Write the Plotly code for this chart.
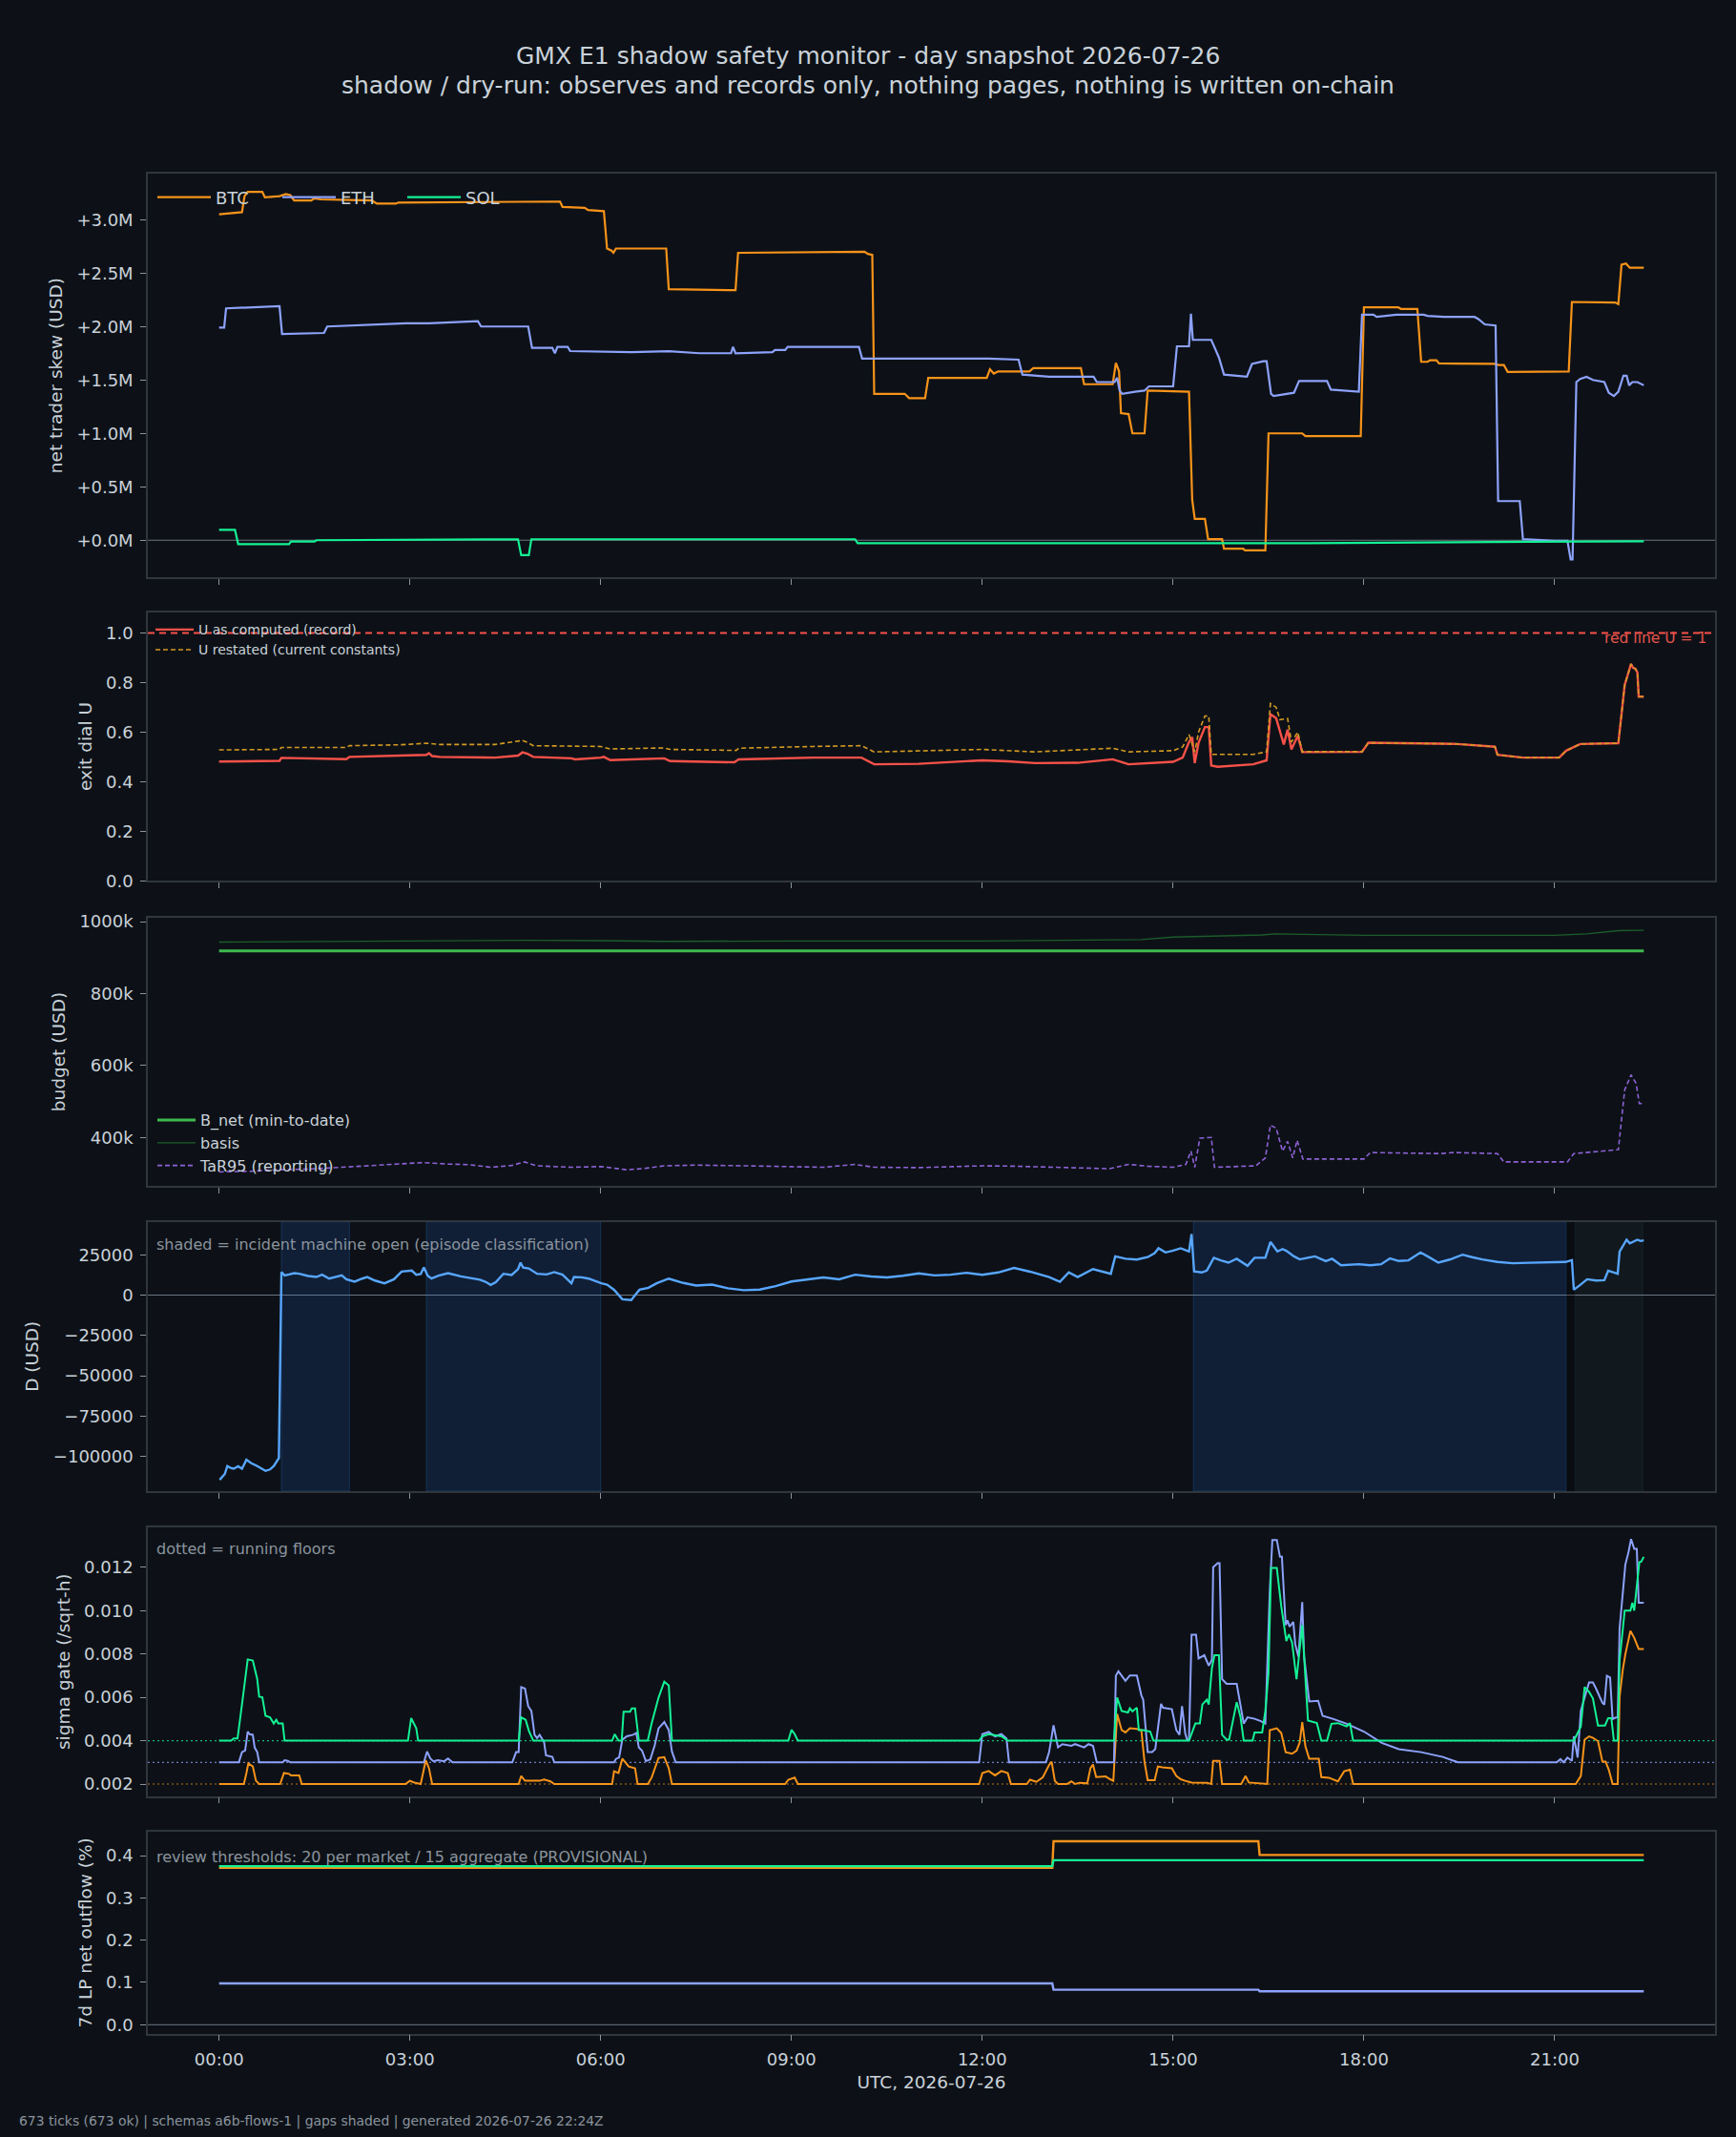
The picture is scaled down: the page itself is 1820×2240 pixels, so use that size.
import pandas as pd
import plotly.graph_objects as go

DAY = pd.Timestamp("2026-07-26 00:00")

# ---------------- data (hour of day, value) ----------------
# panel 1: net trader skew, millions USD
BTC_SKEW = [(0.00, 3.05), (0.20, 3.06), (0.36, 3.07), (0.40, 3.22), (0.45, 3.26), (0.68, 3.26), (0.72, 3.21),
            (0.95, 3.22), (1.05, 3.24), (1.12, 3.23), (1.18, 3.18), (1.45, 3.18), (1.50, 3.20), (1.60, 3.19),
            (2.40, 3.18), (2.48, 3.15), (2.78, 3.15), (2.82, 3.16), (5.30, 3.17), (5.36, 3.17), (5.40, 3.12),
            (5.75, 3.11), (5.80, 3.09), (6.05, 3.08), (6.10, 2.73), (6.17, 2.71), (6.20, 2.69), (6.24, 2.73),
            (7.03, 2.73), (7.07, 2.35), (8.12, 2.34), (8.16, 2.69), (10.15, 2.70), (10.20, 2.68), (10.27, 2.67),
            (10.30, 1.37), (10.78, 1.37), (10.85, 1.33), (11.10, 1.33), (11.15, 1.52), (12.07, 1.52), (12.12, 1.60),
            (12.18, 1.56), (12.25, 1.58), (12.74, 1.58), (12.80, 1.61), (13.55, 1.61), (13.60, 1.46), (14.05, 1.46),
            (14.10, 1.66), (14.15, 1.58), (14.18, 1.19), (14.30, 1.18), (14.36, 1.00), (14.55, 1.00), (14.60, 1.40),
            (15.25, 1.39), (15.30, 0.38), (15.34, 0.20), (15.50, 0.20), (15.55, 0.01), (15.77, 0.01), (15.80, -0.08),
            (16.10, -0.08), (16.13, -0.095), (16.45, -0.095), (16.50, 1.00), (17.03, 1.00), (17.08, 0.975),
            (17.95, 0.975), (18.00, 2.18), (18.54, 2.18), (18.58, 2.165), (18.84, 2.165), (18.90, 1.67),
            (19.00, 1.67), (19.04, 1.685), (19.14, 1.685), (19.18, 1.655), (20.05, 1.65), (20.12, 1.64),
            (20.20, 1.64), (20.26, 1.575), (21.22, 1.58), (21.27, 2.23), (21.95, 2.225), (22.00, 2.21),
            (22.05, 2.58), (22.12, 2.59), (22.18, 2.55), (22.40, 2.55)]
ETH_SKEW = [(0.00, 1.99), (0.08, 1.99), (0.11, 2.17), (0.95, 2.19), (0.99, 1.93), (1.65, 1.94), (1.70, 2.00),
            (2.94, 2.03), (3.30, 2.03), (4.07, 2.05), (4.12, 2.00), (4.86, 2.00), (4.92, 1.80), (5.24, 1.80),
            (5.28, 1.75), (5.32, 1.81), (5.48, 1.81), (5.52, 1.77), (6.48, 1.76), (7.07, 1.77), (7.55, 1.75),
            (8.05, 1.75), (8.08, 1.81), (8.12, 1.75), (8.70, 1.76), (8.74, 1.78), (8.90, 1.78), (8.94, 1.81),
            (10.06, 1.81), (10.11, 1.70), (12.10, 1.70), (12.57, 1.69), (12.63, 1.55), (13.05, 1.53), (13.75, 1.53),
            (13.80, 1.48), (14.08, 1.48), (14.12, 1.52), (14.16, 1.40), (14.20, 1.37), (14.40, 1.39), (14.55, 1.40),
            (14.62, 1.44), (15.00, 1.44), (15.06, 1.815), (15.25, 1.815), (15.28, 2.12), (15.31, 1.875),
            (15.60, 1.875), (15.68, 1.76), (15.72, 1.71), (15.80, 1.55), (16.16, 1.53), (16.24, 1.65),
            (16.42, 1.675), (16.47, 1.675), (16.54, 1.37), (16.58, 1.35), (16.90, 1.38), (16.98, 1.49),
            (17.42, 1.49), (17.48, 1.41), (17.92, 1.39), (17.97, 2.11), (18.15, 2.11), (18.20, 2.09), (18.51, 2.11),
            (18.94, 2.11), (19.00, 2.10), (19.26, 2.09), (19.74, 2.09), (19.80, 2.07), (19.90, 2.02), (20.07, 2.01),
            (20.11, 0.366), (20.45, 0.366), (20.50, 0.01), (21.00, -0.005), (21.20, -0.005), (21.25, -0.18),
            (21.28, -0.18), (21.34, 1.48), (21.40, 1.51), (21.50, 1.53), (21.60, 1.50), (21.78, 1.48),
            (21.85, 1.38), (21.93, 1.35), (22.00, 1.39), (22.08, 1.54), (22.13, 1.54), (22.17, 1.45),
            (22.22, 1.48), (22.30, 1.48), (22.40, 1.45)]
SOL_SKEW = [(0.00, 0.098), (0.25, 0.098), (0.30, -0.036), (1.10, -0.036), (1.13, -0.012), (1.50, -0.012),
            (1.53, 0.0), (4.70, 0.009), (4.75, -0.14), (4.87, -0.14), (4.91, 0.009), (10.00, 0.009),
            (10.04, -0.027), (17.13, -0.027), (20.60, -0.015), (22.05, -0.015), (22.10, -0.01), (22.40, -0.01)]
SKEW_TICKS = [0.0, 0.5, 1.0, 1.5, 2.0, 2.5, 3.0]
SKEW_TICK_TEXT = ["+0.0M", "+0.5M", "+1.0M", "+1.5M", "+2.0M", "+2.5M", "+3.0M"]

# panel 2: exit dial U
U_RECORD = [(0.00, 0.481), (0.95, 0.484), (0.98, 0.496), (2.00, 0.491), (2.05, 0.500), (2.87, 0.506),
            (3.26, 0.508), (3.30, 0.515), (3.35, 0.503), (3.47, 0.500), (4.34, 0.497), (4.70, 0.505),
            (4.77, 0.518), (4.85, 0.512), (4.94, 0.500), (5.54, 0.494), (5.60, 0.490), (6.00, 0.497),
            (6.05, 0.500), (6.15, 0.487), (7.00, 0.494), (7.09, 0.483), (8.10, 0.478), (8.17, 0.490),
            (9.34, 0.497), (10.10, 0.497), (10.30, 0.470), (11.00, 0.472), (12.00, 0.486), (12.40, 0.482),
            (12.83, 0.475), (13.50, 0.476), (14.05, 0.490), (14.30, 0.470), (15.00, 0.480), (15.15, 0.497),
            (15.25, 0.560), (15.30, 0.580), (15.34, 0.475), (15.40, 0.557), (15.50, 0.620), (15.56, 0.620),
            (15.60, 0.465), (15.70, 0.460), (16.26, 0.470), (16.47, 0.486), (16.53, 0.672), (16.62, 0.656),
            (16.68, 0.607), (16.74, 0.550), (16.80, 0.610), (16.86, 0.530), (16.96, 0.585), (17.03, 0.519),
            (17.97, 0.520), (18.07, 0.557), (19.47, 0.552), (20.06, 0.541), (20.10, 0.508), (20.50, 0.497),
            (21.07, 0.497), (21.18, 0.525), (21.40, 0.552), (22.00, 0.555), (22.10, 0.790), (22.20, 0.875),
            (22.23, 0.860), (22.27, 0.855), (22.30, 0.840), (22.32, 0.743), (22.40, 0.743)]
U_RESTATED = [(0.00, 0.528), (0.95, 0.530), (0.98, 0.538), (2.00, 0.538), (2.05, 0.545), (2.87, 0.549),
              (3.26, 0.555), (3.47, 0.550), (4.34, 0.550), (4.77, 0.566), (4.85, 0.558), (4.94, 0.545),
              (6.00, 0.542), (6.15, 0.532), (7.00, 0.536), (7.09, 0.530), (8.13, 0.526), (8.17, 0.535),
              (9.34, 0.542), (10.10, 0.545), (10.30, 0.520), (12.00, 0.530), (12.83, 0.520), (14.05, 0.535),
              (14.30, 0.520), (15.00, 0.525), (15.15, 0.540), (15.25, 0.590), (15.34, 0.520), (15.40, 0.600),
              (15.50, 0.665), (15.56, 0.665), (15.60, 0.510), (16.26, 0.510), (16.47, 0.520), (16.53, 0.715),
              (16.62, 0.700), (16.68, 0.650), (16.80, 0.655), (16.86, 0.560), (16.96, 0.600), (17.03, 0.521),
              (17.97, 0.521), (18.07, 0.557), (19.47, 0.552), (20.06, 0.541), (20.10, 0.508), (20.50, 0.497),
              (21.07, 0.497), (21.18, 0.525), (21.40, 0.552), (22.00, 0.555), (22.10, 0.790), (22.20, 0.875),
              (22.23, 0.860), (22.27, 0.855), (22.30, 0.840), (22.32, 0.743), (22.40, 0.743)]
U_RED_LINE = 1.0
U_TICKS = [0.0, 0.2, 0.4, 0.6, 0.8, 1.0]

# panel 3: budget, thousands USD
B_NET = [(0.00, 918.5), (22.40, 918.5)]
BASIS = [(0.0, 943), (1.0, 944), (3.0, 946), (4.8, 948), (6.0, 947), (7.0, 945), (9.0, 946), (12.0, 946),
         (14.5, 950), (15.0, 957), (16.4, 963), (16.6, 966), (18.0, 962), (21.0, 962), (21.5, 966),
         (22.0, 975), (22.4, 976)]
TAR95 = [(0.0, 304), (0.5, 306), (0.93, 310), (1.4, 312), (1.93, 317), (2.4, 322), (2.87, 328), (3.2, 330),
         (3.6, 326), (3.94, 324), (4.27, 317), (4.6, 322), (4.8, 332), (5.0, 321), (5.54, 317), (6.01, 319),
         (6.41, 310), (6.7, 314), (7.0, 321), (7.5, 323), (8.3, 321), (9.0, 318), (9.5, 317), (10.0, 325),
         (10.3, 317), (11.0, 316), (12.0, 321), (12.5, 320), (13.0, 317), (13.5, 315), (14.0, 313),
         (14.3, 325), (14.6, 320), (15.0, 317), (15.2, 325), (15.28, 362), (15.34, 317), (15.42, 398),
         (15.6, 400), (15.65, 317), (16.3, 321), (16.45, 343), (16.53, 434), (16.62, 426), (16.72, 362),
         (16.8, 389), (16.88, 343), (16.95, 392), (17.04, 340), (18.0, 340), (18.1, 358), (19.2, 355),
         (19.4, 358), (20.1, 355), (20.2, 332), (21.2, 332), (21.3, 355), (22.0, 366), (22.1, 532),
         (22.2, 574), (22.28, 550), (22.33, 494), (22.4, 494)]
BUDGET_TICKS = [400e3, 600e3, 800e3, 1000e3]
BUDGET_TICK_TEXT = ["400k", "600k", "800k", "1000k"]

# panel 4: D, thousands USD
D_USD = [(0.01, -114.4), (0.09, -110.8), (0.13, -105.9), (0.18, -107.0), (0.23, -107.5), (0.30, -106.0),
         (0.36, -107.5), (0.43, -102.0), (0.50, -104.0), (0.60, -105.9), (0.73, -108.9), (0.80, -108.0),
         (0.86, -105.9), (0.94, -101.0), (0.98, 14.2), (1.03, 12.2), (1.10, 12.8), (1.18, 13.6), (1.26, 13.2),
         (1.40, 11.8), (1.53, 11.2), (1.62, 12.6), (1.73, 10.2), (1.85, 11.4), (1.93, 12.2), (2.00, 9.8),
         (2.13, 8.3), (2.25, 10.2), (2.33, 11.2), (2.45, 9.0), (2.60, 7.3), (2.75, 9.8), (2.87, 14.6),
         (3.03, 15.2), (3.10, 12.6), (3.17, 13.0), (3.22, 17.1), (3.28, 12.0), (3.34, 10.2), (3.45, 12.0),
         (3.60, 13.6), (3.80, 11.6), (3.94, 10.6), (4.10, 9.5), (4.20, 8.0), (4.27, 6.3), (4.35, 8.0),
         (4.47, 13.2), (4.60, 12.4), (4.70, 16.0), (4.74, 20.1), (4.78, 17.0), (4.87, 16.5), (5.00, 13.2),
         (5.15, 12.8), (5.27, 14.2), (5.40, 12.6), (5.54, 7.3), (5.58, 11.2), (5.70, 11.0), (5.81, 10.2),
         (6.01, 7.3), (6.10, 6.5), (6.21, 3.3), (6.34, -2.6), (6.48, -3.1), (6.55, 0.5), (6.61, 3.3),
         (6.75, 4.5), (6.88, 7.3), (7.07, 10.2), (7.30, 7.5), (7.50, 5.9), (7.75, 6.5), (8.00, 4.2),
         (8.25, 3.0), (8.50, 3.4), (8.75, 5.5), (9.00, 8.4), (9.25, 9.5), (9.50, 10.9), (9.75, 9.8),
         (10.00, 12.6), (10.25, 11.5), (10.50, 10.9), (10.75, 12.0), (11.00, 13.4), (11.25, 12.2),
         (11.50, 12.6), (11.75, 13.8), (12.00, 12.6), (12.25, 14.0), (12.50, 16.8), (12.75, 14.5),
         (13.05, 11.2), (13.22, 8.2), (13.36, 14.1), (13.50, 11.2), (13.74, 16.1), (14.02, 13.2),
         (14.09, 24.0), (14.25, 22.5), (14.43, 22.0), (14.60, 23.5), (14.71, 26.0), (14.77, 29.0),
         (14.88, 26.4), (15.00, 27.5), (15.12, 29.0), (15.25, 27.0), (15.29, 37.8), (15.33, 14.6),
         (15.45, 14.0), (15.53, 15.2), (15.64, 23.1), (15.75, 21.5), (15.87, 20.1), (16.00, 22.5),
         (16.10, 20.0), (16.17, 18.1), (16.28, 23.1), (16.45, 23.1), (16.53, 32.9), (16.64, 27.0),
         (16.72, 28.5), (16.78, 27.4), (16.90, 24.0), (16.99, 22.1), (17.10, 23.0), (17.23, 24.0),
         (17.40, 21.0), (17.50, 22.5), (17.64, 18.5), (17.80, 18.8), (17.92, 19.1), (18.10, 18.5),
         (18.27, 19.1), (18.41, 22.7), (18.55, 21.1), (18.70, 21.5), (18.89, 26.4), (19.00, 24.0),
         (19.17, 20.1), (19.35, 22.0), (19.55, 25.0), (19.70, 23.5), (19.86, 22.1), (20.10, 20.5),
         (20.34, 19.7), (20.60, 20.0), (20.90, 20.2), (21.17, 20.5), (21.27, 21.7), (21.30, 3.3),
         (21.40, 6.3), (21.51, 9.8), (21.65, 9.0), (21.78, 9.2), (21.84, 15.1), (21.92, 14.1), (21.99, 13.2),
         (22.02, 27.0), (22.08, 31.0), (22.13, 34.3), (22.18, 32.0), (22.23, 32.9), (22.30, 34.3),
         (22.35, 33.5), (22.40, 33.9)]
INCIDENT_OPEN = [(0.98, 2.05), (3.26, 6.00), (15.32, 21.18)]
GAP_SPANS = [(21.18, 21.32)]
LATE_SPANS = [(21.32, 22.39)]
D_TICKS = [-100000, -75000, -50000, -25000, 0, 25000]
D_TICK_TEXT = ["\u2212100000", "\u221275000", "\u221250000", "\u221225000", "0", "25000"]

# panel 5: sigma gate (/sqrt-h)
BTC_SIG = [(0, 0.002), (0.39, 0.002), (0.43, 0.00251), (0.46, 0.00295), (0.53, 0.00281), (0.58, 0.00215),
           (0.63, 0.002), (0.96, 0.002), (1.02, 0.00251), (1.10, 0.00247), (1.13, 0.0024), (1.26, 0.0024),
           (1.30, 0.002), (2.93, 0.002), (3.00, 0.00215), (3.07, 0.00207), (3.17, 0.002), (3.20, 0.00237),
           (3.25, 0.0031), (3.30, 0.00273), (3.35, 0.002), (4.71, 0.002), (4.75, 0.00237), (4.81, 0.00215),
           (5.04, 0.00215), (5.11, 0.00221), (5.21, 0.00212), (5.27, 0.002), (6.18, 0.002), (6.21, 0.00259),
           (6.28, 0.00251), (6.34, 0.00317), (6.44, 0.00281), (6.54, 0.00273), (6.58, 0.002), (6.74, 0.002),
           (6.80, 0.00229), (6.91, 0.0032), (7.00, 0.00324), (7.07, 0.00273), (7.12, 0.002), (8.90, 0.002),
           (8.95, 0.0022), (9.05, 0.0023), (9.10, 0.002), (11.95, 0.002), (12.00, 0.0025), (12.10, 0.0026),
           (12.20, 0.0024), (12.30, 0.0026), (12.40, 0.0025), (12.45, 0.002), (12.70, 0.002), (12.75, 0.0022),
           (12.85, 0.0021), (12.95, 0.0023), (13.05, 0.00288), (13.09, 0.00303), (13.14, 0.00215),
           (13.19, 0.002), (13.33, 0.002), (13.40, 0.00212), (13.46, 0.002), (13.53, 0.00206), (13.65, 0.00203),
           (13.70, 0.00273), (13.74, 0.0029), (13.79, 0.00232), (13.94, 0.00235), (14.01, 0.00222),
           (14.06, 0.00215), (14.12, 0.00523), (14.19, 0.00449), (14.25, 0.00438), (14.32, 0.00457),
           (14.43, 0.00454), (14.50, 0.00449), (14.55, 0.00303), (14.60, 0.00218), (14.71, 0.00218),
           (14.76, 0.00281), (14.83, 0.00277), (14.98, 0.00273), (15.05, 0.00237), (15.12, 0.00222),
           (15.19, 0.00215), (15.29, 0.00207), (15.53, 0.00206), (15.60, 0.002), (15.63, 0.00307),
           (15.73, 0.00307), (15.77, 0.002), (16.07, 0.002), (16.14, 0.00237), (16.19, 0.00207), (16.48, 0.002),
           (16.52, 0.00449), (16.63, 0.00457), (16.70, 0.00435), (16.77, 0.00347), (16.87, 0.0034),
           (16.94, 0.00354), (16.99, 0.00391), (17.03, 0.00486), (17.08, 0.00374), (17.14, 0.00317),
           (17.29, 0.00317), (17.33, 0.00232), (17.45, 0.00229), (17.59, 0.00212), (17.69, 0.00259),
           (17.78, 0.00266), (17.83, 0.002), (21.33, 0.002), (21.41, 0.00237), (21.47, 0.00405), (21.54, 0.0042),
           (21.60, 0.00413), (21.68, 0.00398), (21.75, 0.00303), (21.80, 0.00303), (21.85, 0.00266),
           (21.91, 0.002), (21.99, 0.002), (22.02, 0.00603), (22.07, 0.00728), (22.11, 0.00798),
           (22.19, 0.00907), (22.25, 0.00874), (22.32, 0.00823), (22.40, 0.00823)]
ETH_SIG = [(0, 0.003), (0.31, 0.003), (0.36, 0.00347), (0.41, 0.00355), (0.45, 0.00442), (0.48, 0.0043),
           (0.53, 0.00427), (0.56, 0.00368), (0.60, 0.00347), (0.63, 0.003), (1.00, 0.003), (1.03, 0.0031),
           (1.08, 0.00307), (1.12, 0.003), (3.22, 0.003), (3.27, 0.0035), (3.32, 0.00318), (3.37, 0.00305),
           (3.44, 0.0031), (3.54, 0.00305), (3.60, 0.00318), (3.67, 0.003), (4.61, 0.003), (4.67, 0.00347),
           (4.71, 0.00347), (4.75, 0.00647), (4.81, 0.0064), (4.86, 0.00559), (4.91, 0.00537), (4.96, 0.00427),
           (5.00, 0.00412), (5.04, 0.00427), (5.11, 0.00393), (5.14, 0.00332), (5.24, 0.00325), (5.27, 0.003),
           (6.21, 0.003), (6.24, 0.00316), (6.29, 0.00323), (6.34, 0.00404), (6.41, 0.0042), (6.51, 0.00427),
           (6.56, 0.00435), (6.60, 0.00368), (6.65, 0.00354), (6.71, 0.00306), (6.78, 0.00313), (6.85, 0.00379),
           (6.91, 0.00457), (7.00, 0.00486), (7.07, 0.00449), (7.12, 0.0035), (7.18, 0.003), (11.95, 0.003),
           (12.00, 0.0043), (12.10, 0.0044), (12.20, 0.0042), (12.30, 0.0043), (12.38, 0.0041), (12.42, 0.003),
           (13.00, 0.003), (13.05, 0.00347), (13.12, 0.00471), (13.19, 0.00369), (13.26, 0.00384),
           (13.40, 0.00376), (13.46, 0.00384), (13.60, 0.00369), (13.67, 0.00384), (13.74, 0.00376),
           (13.80, 0.003), (14.07, 0.003), (14.10, 0.00699), (14.14, 0.0072), (14.25, 0.00676), (14.32, 0.00701),
           (14.43, 0.00701), (14.50, 0.0061), (14.53, 0.00588), (14.60, 0.00347), (14.67, 0.00347),
           (14.72, 0.00362), (14.81, 0.0057), (14.84, 0.00552), (14.98, 0.00545), (15.05, 0.00449),
           (15.10, 0.00427), (15.14, 0.00559), (15.19, 0.00434), (15.22, 0.00405), (15.25, 0.00405),
           (15.29, 0.00889), (15.36, 0.00889), (15.40, 0.00779), (15.49, 0.00794), (15.56, 0.00746),
           (15.61, 0.00772), (15.63, 0.0120), (15.70, 0.01219), (15.73, 0.01219), (15.77, 0.00684),
           (15.84, 0.00662), (16.00, 0.00662), (16.06, 0.00552), (16.11, 0.00479), (16.17, 0.00508),
           (16.28, 0.00501), (16.38, 0.0049), (16.45, 0.00479), (16.52, 0.01094), (16.56, 0.01326),
           (16.63, 0.01326), (16.68, 0.01248), (16.71, 0.01248), (16.77, 0.00933), (16.80, 0.00955),
           (16.83, 0.00926), (16.89, 0.00948), (16.92, 0.00845), (16.97, 0.00787), (17.03, 0.01039),
           (17.06, 0.00787), (17.14, 0.00581), (17.28, 0.00584), (17.35, 0.00515), (17.52, 0.005),
           (17.73, 0.00478), (18.00, 0.00442), (18.28, 0.0039), (18.55, 0.00361), (18.90, 0.00347),
           (19.24, 0.00325), (19.48, 0.003), (21.03, 0.003), (21.09, 0.00315), (21.14, 0.003), (21.20, 0.00322),
           (21.27, 0.00307), (21.30, 0.0042), (21.36, 0.00322), (21.41, 0.00537), (21.46, 0.00589),
           (21.54, 0.00669), (21.60, 0.00669), (21.65, 0.0064), (21.75, 0.00574), (21.78, 0.00566),
           (21.82, 0.00699), (21.87, 0.00691), (21.91, 0.00500), (21.96, 0.00507), (21.99, 0.00507),
           (22.02, 0.00918), (22.11, 0.01212), (22.16, 0.0127), (22.20, 0.0133), (22.25, 0.01285),
           (22.29, 0.01285), (22.32, 0.01036), (22.40, 0.01036)]
SOL_SIG = [(0, 0.004), (0.19, 0.004), (0.23, 0.0041), (0.29, 0.0041), (0.36, 0.00567), (0.45, 0.00775),
           (0.53, 0.0077), (0.60, 0.00684), (0.63, 0.00603), (0.68, 0.006), (0.73, 0.00515), (0.80, 0.00508),
           (0.86, 0.00479), (0.90, 0.00496), (0.93, 0.00479), (1.00, 0.00479), (1.03, 0.004), (2.97, 0.004),
           (3.02, 0.00504), (3.10, 0.00457), (3.13, 0.004), (4.71, 0.004), (4.75, 0.00508), (4.82, 0.00496),
           (4.87, 0.00446), (4.94, 0.004), (6.18, 0.004), (6.22, 0.0043), (6.28, 0.004), (6.33, 0.004),
           (6.36, 0.00533), (6.46, 0.00533), (6.49, 0.00549), (6.54, 0.00549), (6.60, 0.004), (6.74, 0.004),
           (6.80, 0.00478), (6.91, 0.00599), (7.00, 0.00672), (7.07, 0.00655), (7.12, 0.004), (8.95, 0.004),
           (9.00, 0.0045), (9.05, 0.0043), (9.10, 0.004), (11.95, 0.004), (12.00, 0.0042), (12.10, 0.0043),
           (12.30, 0.0042), (12.40, 0.004), (14.07, 0.004), (14.12, 0.00599), (14.19, 0.00537), (14.29, 0.0053),
           (14.32, 0.00549), (14.36, 0.00535), (14.43, 0.00552), (14.46, 0.00449), (14.53, 0.00449),
           (14.64, 0.00442), (14.69, 0.004), (15.25, 0.004), (15.35, 0.00479), (15.42, 0.00479), (15.46, 0.00567),
           (15.53, 0.00589), (15.56, 0.00567), (15.61, 0.00735), (15.65, 0.00794), (15.72, 0.00794),
           (15.77, 0.00427), (15.84, 0.00405), (15.88, 0.00405), (15.94, 0.00493), (16.00, 0.00578),
           (16.06, 0.00508), (16.11, 0.004), (16.25, 0.004), (16.28, 0.00438), (16.40, 0.00438), (16.45, 0.00537),
           (16.50, 0.00713), (16.54, 0.01197), (16.63, 0.01197), (16.70, 0.0102), (16.78, 0.0086),
           (16.82, 0.0089), (16.87, 0.00853), (16.94, 0.00684), (17.03, 0.00933), (17.08, 0.00655),
           (17.12, 0.00493), (17.26, 0.00481), (17.33, 0.004), (17.42, 0.004), (17.49, 0.00478), (17.59, 0.00481),
           (17.73, 0.00466), (17.78, 0.00481), (17.83, 0.004), (21.30, 0.004), (21.41, 0.00464), (21.47, 0.00647),
           (21.54, 0.00625), (21.60, 0.00595), (21.68, 0.0047), (21.79, 0.0047), (21.84, 0.00504),
           (21.89, 0.00504), (21.93, 0.004), (21.99, 0.004), (22.02, 0.00772), (22.10, 0.0100), (22.19, 0.0100),
           (22.22, 0.01036), (22.25, 0.0100), (22.33, 0.01223), (22.36, 0.01226), (22.40, 0.01248)]
SIG_FLOORS = [("BTC", 0.002), ("ETH", 0.003), ("SOL", 0.004)]
SIG_TICKS = [0.002, 0.004, 0.006, 0.008, 0.010, 0.012]
SIG_TICK_TEXT = ["0.002", "0.004", "0.006", "0.008", "0.010", "0.012"]

# panel 6: 7d LP net outflow (%)
BTC_OUT = [(0.00, 0.371), (13.10, 0.371), (13.12, 0.434), (16.34, 0.434), (16.36, 0.4015), (22.40, 0.4015)]
ETH_OUT = [(0.00, 0.0977), (13.10, 0.0977), (13.12, 0.0827), (16.34, 0.0827), (16.36, 0.079), (22.40, 0.079)]
SOL_OUT = [(0.00, 0.375), (13.10, 0.375), (13.12, 0.389), (22.40, 0.389)]
OUT_TICKS = [0.0, 0.1, 0.2, 0.3, 0.4]

X_TICK_HOURS = [0, 3, 6, 9, 12, 15, 18, 21]
X_RANGE_HOURS = (-1.12, 23.52)

# ---------------- styling / geometry ----------------
W, H = 1820, 2240
ML, MR, MT, MB = 155, 22, 181.7, 108
PW, PH = W - ML - MR, H - MT - MB
PANELS_PX = [(181.7, 605.0), (641.7, 923.0), (961.7, 1243.0), (1280.7, 1562.7), (1600.7, 1882.7), (1920.0, 2131.7)]

BG = "#0d1117"
FRAME = "#30363d"
TXT = "#c9d1d9"
MUTED = "#8b949e"
C_BTC = "#f7931a"
C_ETH = "#8da2fb"
C_SOL = "#14f195"
FONT = "DejaVu Sans"


def xpaper(px):
    return (px - ML) / PW


def ypaper(px):
    return (H - MB - px) / PH


def clamp(v):
    return max(0.0, min(1.0, v))


def hrs(h):
    return DAY + pd.Timedelta(hours=h)


def tx(pairs):
    return [hrs(h) for h, _ in pairs]


def vy(pairs, k=1.0):
    return [v * k for _, v in pairs]


fig = go.Figure()


def line(pairs, panel, color, width=2.2, name=None, legend=None, dash=None, k=1.0, opacity=1.0):
    ax = "" if panel == 1 else str(panel)
    fig.add_trace(go.Scatter(
        x=tx(pairs), y=vy(pairs, k), mode="lines", name=name,
        line=dict(color=color, width=width, dash=dash), opacity=opacity,
        xaxis="x" + ax, yaxis="y" + ax,
        showlegend=legend is not None, legend=legend or "legend",
    ))


# panel 1
line(BTC_SKEW, 1, C_BTC, name="BTC", legend="legend", k=1e6)
line(ETH_SKEW, 1, C_ETH, name="ETH", legend="legend", k=1e6)
line(SOL_SKEW, 1, C_SOL, name="SOL", legend="legend", k=1e6)
# panel 2
line(U_RECORD, 2, "#f85149", width=2.4, name="U as computed (record)", legend="legend2")
line(U_RESTATED, 2, "#d29922", width=1.6, name="U restated (current constants)", legend="legend2", dash="5px,3px")
# panel 3
line(B_NET, 3, "#3fb950", width=3.0, name="B_net (min-to-date)", legend="legend3", k=1e3)
line(BASIS, 3, "#1d5c2b", width=1.4, name="basis", legend="legend3", k=1e3)
line(TAR95, 3, "#a371f7", width=1.6, name="TaR95 (reporting)", legend="legend3", dash="5px,3px", k=1e3, opacity=0.85)
# panel 4
line(D_USD, 4, "#58a6ff", width=2.4, k=1e3)
# panel 5
line(BTC_SIG, 5, C_BTC, width=2.0)
line(ETH_SIG, 5, C_ETH, width=2.0)
line(SOL_SIG, 5, C_SOL, width=2.0)
# panel 6
line(BTC_OUT, 6, C_BTC, width=2.4)
line(ETH_OUT, 6, C_ETH, width=2.4)
line(SOL_OUT, 6, C_SOL, width=2.4)

shapes = []
for p in (1, 4, 6):
    ax = "" if p == 1 else str(p)
    shapes.append(dict(type="line", xref="x%s domain" % ax, yref="y" + ax, x0=0, x1=1, y0=0, y1=0,
                       line=dict(color="#6e7681", width=1), layer="below"))
shapes.append(dict(type="line", xref="x2 domain", yref="y2", x0=0, x1=1, y0=U_RED_LINE, y1=U_RED_LINE,
                   line=dict(color="#f85149", width=1.8, dash="7px,5px"), layer="above"))
for a, b in INCIDENT_OPEN:
    shapes.append(dict(type="rect", xref="x4", yref="y4 domain", x0=hrs(a), x1=hrs(b), y0=0, y1=1,
                       fillcolor="rgba(31,111,235,0.15)", line=dict(color="rgba(56,139,253,0.22)", width=1),
                       layer="below"))
for a, b in GAP_SPANS:
    shapes.append(dict(type="rect", xref="x4", yref="y4 domain", x0=hrs(a), x1=hrs(b), y0=0, y1=1,
                       fillcolor="rgba(0,0,0,0.25)", line=dict(width=0), layer="below"))
for a, b in LATE_SPANS:
    shapes.append(dict(type="rect", xref="x4", yref="y4 domain", x0=hrs(a), x1=hrs(b), y0=0, y1=1,
                       fillcolor="rgba(80,160,170,0.06)", line=dict(color="rgba(80,160,170,0.08)", width=1),
                       layer="below"))
floor_colors = {"BTC": C_BTC, "ETH": C_ETH, "SOL": C_SOL}
for m, v in SIG_FLOORS:
    shapes.append(dict(type="line", xref="x5 domain", yref="y5", x0=0, x1=1, y0=v, y1=v,
                       line=dict(color=floor_colors[m], width=1.2, dash="2px,3px"), opacity=0.75, layer="below"))

tickfont = dict(family=FONT, size=18, color=TXT)
titlefont = dict(family=FONT, size=18.5, color=TXT)

yspecs = [
    dict(range=[-0.348e6, 3.431e6], tickvals=[v * 1e6 for v in SKEW_TICKS], ticktext=SKEW_TICK_TEXT,
         title="net trader skew (USD)"),
    dict(range=[0, 1.083], tickvals=U_TICKS, ticktext=["%.1f" % v for v in U_TICKS], title="exit dial U"),
    dict(range=[265e3, 1011e3], tickvals=BUDGET_TICKS, ticktext=BUDGET_TICK_TEXT, title="budget (USD)"),
    dict(range=[-121300, 45300], tickvals=D_TICKS, ticktext=D_TICK_TEXT, title="D (USD)"),
    dict(range=[0.00144, 0.013848], tickvals=SIG_TICKS, ticktext=SIG_TICK_TEXT, title="sigma gate (/sqrt-h)"),
    dict(range=[-0.0212, 0.4564], tickvals=OUT_TICKS, ticktext=["%.1f" % v for v in OUT_TICKS],
         title="7d LP net outflow (%)"),
]

layout = dict(
    width=W, height=H, margin=dict(l=ML, r=MR, t=MT, b=MB, autoexpand=False),
    paper_bgcolor=BG, plot_bgcolor=BG, font=dict(family=FONT, color=TXT, size=16),
    shapes=shapes, hovermode=False,
)
for i, (top, bot) in enumerate(PANELS_PX, start=1):
    ax = "" if i == 1 else str(i)
    xa = dict(
        domain=[0, 1], anchor="y" + ax, type="date",
        range=[hrs(X_RANGE_HOURS[0]), hrs(X_RANGE_HOURS[1])],
        tickvals=[hrs(h) for h in X_TICK_HOURS], tickformat="%H:%M",
        showticklabels=(i == 6), ticks="outside", ticklen=6, tickwidth=1.2, tickcolor=MUTED,
        showline=True, mirror=True, linecolor=FRAME, linewidth=1.5, showgrid=False, zeroline=False,
        tickfont=tickfont, ticklabelstandoff=4,
    )
    if i > 1:
        xa["matches"] = "x"
    if i == 6:
        xa["title"] = dict(text="UTC, 2026-07-26", font=titlefont, standoff=8)
    layout["xaxis" + ax] = xa
    s = yspecs[i - 1]
    layout["yaxis" + ax] = dict(
        domain=[clamp(ypaper(bot)), clamp(ypaper(top))], anchor="x" + ax, range=s["range"],
        tickvals=s["tickvals"], ticktext=s["ticktext"], ticks="outside", ticklen=6, tickwidth=1.2,
        tickcolor=MUTED, showline=True, mirror=True, linecolor=FRAME, linewidth=1.5, showgrid=False,
        zeroline=False, tickfont=tickfont, ticklabelstandoff=4,
        title=dict(text=s["title"], font=titlefont, standoff=10),
    )

legend_common = dict(bgcolor="rgba(0,0,0,0)", borderwidth=0, xanchor="left",
                     itemclick=False, itemdoubleclick=False)
layout["legend"] = dict(legend_common, x=xpaper(160), y=ypaper(206.7), yanchor="middle", orientation="h",
                        itemwidth=56, font=dict(family=FONT, size=18, color=TXT), entrywidth=60)
layout["legend2"] = dict(legend_common, x=xpaper(158), y=ypaper(644), yanchor="top", orientation="v",
                         itemwidth=40, font=dict(family=FONT, size=14, color=TXT), tracegroupgap=0)
layout["legend3"] = dict(legend_common, x=xpaper(160), y=ypaper(1239), yanchor="bottom", orientation="v",
                         itemwidth=40, font=dict(family=FONT, size=16, color=TXT), tracegroupgap=0)

ann = []
ann.append(dict(text="GMX E1 shadow safety monitor - day snapshot 2026-07-26", x=xpaper(910), y=ypaper(58),
                xref="paper", yref="paper", showarrow=False, xanchor="center", yanchor="middle",
                font=dict(family=FONT, size=25, color=TXT)))
ann.append(dict(text="shadow / dry-run: observes and records only, nothing pages, nothing is written on-chain",
                x=xpaper(910), y=ypaper(89), xref="paper", yref="paper", showarrow=False, xanchor="center",
                yanchor="middle", font=dict(family=FONT, size=25, color=TXT)))
ann.append(dict(text="red line U = 1", x=xpaper(1791), y=ypaper(669), xref="paper", yref="paper",
                showarrow=False, xanchor="right", yanchor="middle", font=dict(family=FONT, size=15.5, color="#e5534b")))
for txt, ypx in [("shaded = incident machine open (episode classification)", 1304),
                 ("dotted = running floors", 1623.5),
                 ("review thresholds: 20 per market / 15 aggregate (PROVISIONAL)", 1946.7)]:
    ann.append(dict(text=txt, x=xpaper(162), y=ypaper(ypx), xref="paper", yref="paper", showarrow=False,
                    xanchor="left", yanchor="middle", font=dict(family=FONT, size=16, color=MUTED)))
ann.append(dict(text="673 ticks (673 ok) | schemas a6b-flows-1 | gaps shaded | generated 2026-07-26 22:24Z",
                x=xpaper(18), y=ypaper(2224), xref="paper", yref="paper", showarrow=False, xanchor="left",
                yanchor="middle", font=dict(family=FONT, size=13.9, color=MUTED)))
layout["annotations"] = ann

fig.update_layout(**layout)
fig.write_html("out.html")
